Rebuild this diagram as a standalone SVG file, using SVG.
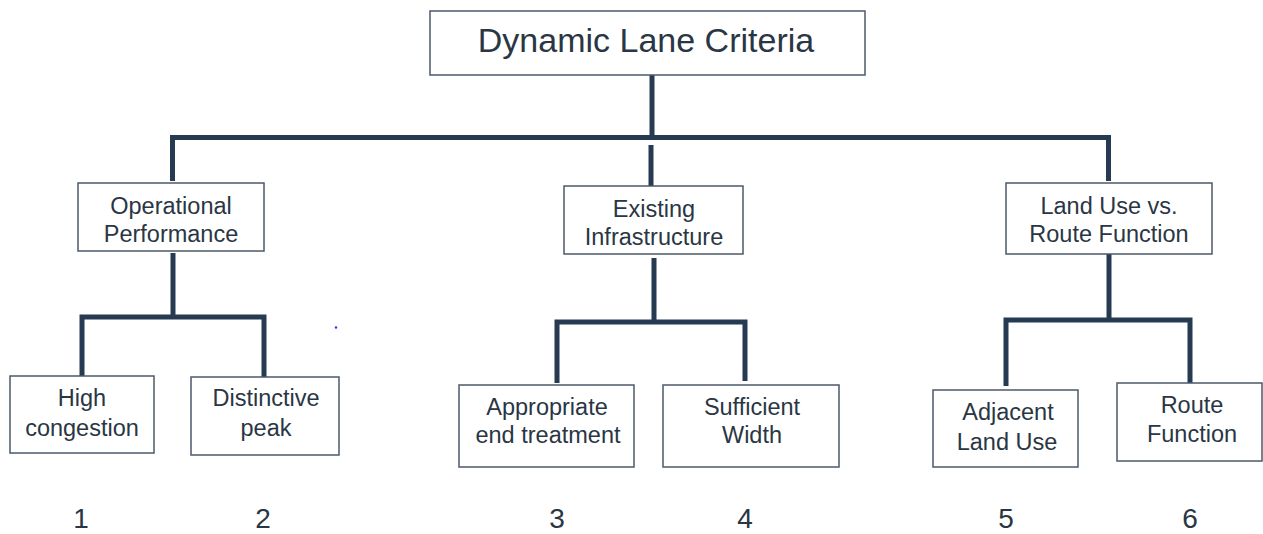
<svg xmlns="http://www.w3.org/2000/svg" width="1263" height="534" viewBox="0 0 1263 534">
<style>
.box{fill:#fff;stroke:#4b5a69;stroke-width:1.5}
.t{font-family:"Liberation Sans",Arial,sans-serif;font-size:23.5px;fill:#2a3644;text-anchor:middle}
.title{font-size:34px}
.num{font-size:28px}
.c{stroke:#263b52;stroke-width:5;fill:none;stroke-linecap:butt;stroke-linejoin:miter}
</style>
<rect width="1263" height="534" fill="#fff"/>
<g id="connectors">
<path class="c" d="M652 75V137.5"/>
<path class="c" d="M172.5 181V137.5H1108.5V181"/>
<path class="c" d="M651 145V186"/>
<path class="c" d="M173 253V317"/>
<path class="c" d="M82 379V317H264V380"/>
<path class="c" d="M654 258V320"/>
<path class="c" d="M557 383V322H745V381"/>
<path class="c" d="M1109 254V318"/>
<path class="c" d="M1006 386V320H1190V385"/>
</g>
<g id="root">
<rect class="box" x="430" y="11" width="435" height="64"/>
<text class="t title" x="646" y="52">Dynamic Lane Criteria</text>
</g>
<g id="operational">
<rect class="box" x="78" y="183" width="186" height="68"/>
<text class="t" x="171" y="214">Operational</text>
<text class="t" x="171" y="242">Performance</text>
</g>
<g id="existing">
<rect class="box" x="564" y="186" width="179" height="68"/>
<text class="t" x="654" y="217">Existing</text>
<text class="t" x="654" y="245">Infrastructure</text>
</g>
<g id="landuse">
<rect class="box" x="1006" y="183" width="206" height="71"/>
<text class="t" x="1109" y="214">Land Use vs.</text>
<text class="t" x="1109" y="242">Route Function</text>
</g>
<g id="high">
<rect class="box" x="10" y="376" width="144" height="77"/>
<text class="t" x="82" y="406">High</text>
<text class="t" x="82" y="436">congestion</text>
</g>
<g id="distinctive">
<rect class="box" x="191" y="377" width="148" height="78"/>
<text class="t" x="266" y="406">Distinctive</text>
<text class="t" x="266" y="436">peak</text>
</g>
<g id="appropriate">
<rect class="box" x="459" y="385" width="175" height="82"/>
<text class="t" x="547" y="415">Appropriate</text>
<text class="t" x="548" y="443">end treatment</text>
</g>
<g id="sufficient">
<rect class="box" x="663" y="385" width="176" height="82"/>
<text class="t" x="752" y="415">Sufficient</text>
<text class="t" x="752" y="443">Width</text>
</g>
<g id="adjacent">
<rect class="box" x="933" y="390" width="145" height="77"/>
<text class="t" x="1008" y="420">Adjacent</text>
<text class="t" x="1007" y="450">Land Use</text>
</g>
<g id="route">
<rect class="box" x="1117" y="383" width="145" height="78"/>
<text class="t" x="1192" y="413">Route</text>
<text class="t" x="1192" y="442">Function</text>
</g>
<g id="numbers">
<text class="t num" x="81" y="528">1</text>
<text class="t num" x="263" y="528">2</text>
<text class="t num" x="557" y="528">3</text>
<text class="t num" x="745" y="528">4</text>
<text class="t num" x="1006" y="528">5</text>
<text class="t num" x="1190" y="528">6</text>
</g>
<circle cx="336" cy="327.5" r="1.3" fill="#3a3aff"/>
</svg>
